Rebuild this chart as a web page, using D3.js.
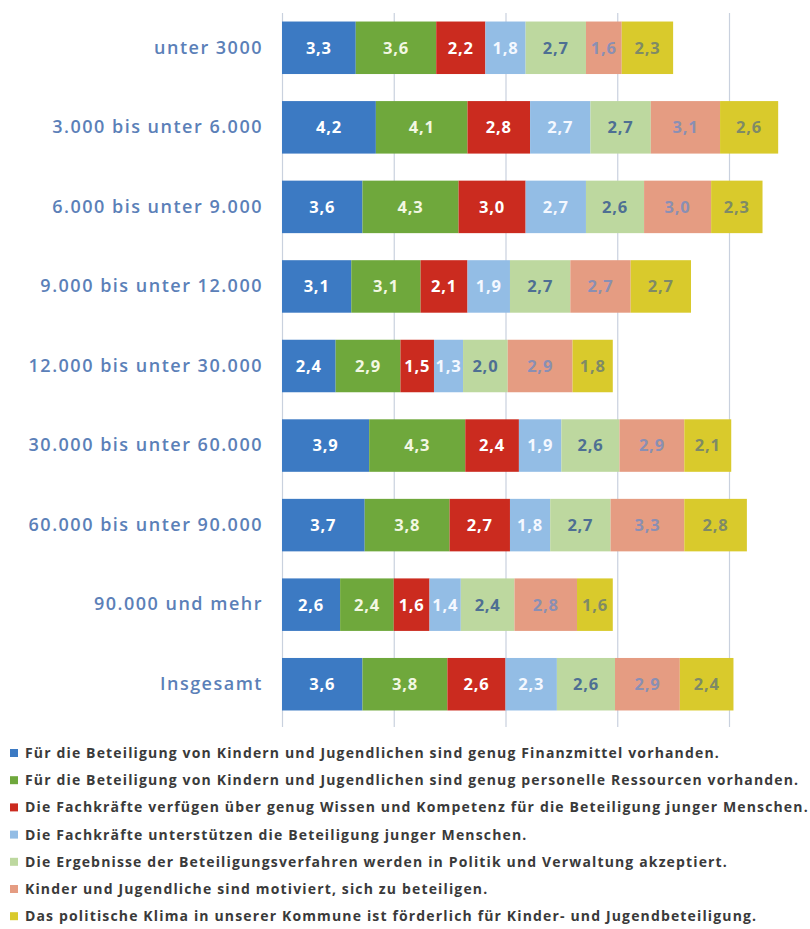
<!DOCTYPE html>
<html>
<head>
<meta charset="utf-8">
<script src="https://cdn.jsdelivr.net/npm/d3@7"></script>
<style>
  html, body { margin: 0; padding: 0; background: #fff; }
  svg { display: block; }
</style>
</head>
<body>
<svg id="chart" width="810" height="929"></svg>
<script>
// Gemeindegrößenklassen (Einwohner)
const categories = [
  "unter 3000",
  "3.000 bis unter 6.000",
  "6.000 bis unter 9.000",
  "9.000 bis unter 12.000",
  "12.000 bis unter 30.000",
  "30.000 bis unter 60.000",
  "60.000 bis unter 90.000",
  "90.000 und mehr",
  "Insgesamt"
];

// Aussagen (Reihen), in Stapelreihenfolge
const seriesNames = [
  "Für die Beteiligung von Kindern und Jugendlichen sind genug Finanzmittel vorhanden.",
  "Für die Beteiligung von Kindern und Jugendlichen sind genug personelle Ressourcen vorhanden.",
  "Die Fachkräfte verfügen über genug Wissen und Kompetenz für die Beteiligung junger Menschen.",
  "Die Fachkräfte unterstützen die Beteiligung junger Menschen.",
  "Die Ergebnisse der Beteiligungsverfahren werden in Politik und Verwaltung akzeptiert.",
  "Kinder und Jugendliche sind motiviert, sich zu beteiligen.",
  "Das politische Klima in unserer Kommune ist förderlich für Kinder- und Jugendbeteiligung."
];

// Werte je Reihe, eine Zahl pro Größenklasse
const finanzmittel  = [3.3, 4.2, 3.6, 3.1, 2.4, 3.9, 3.7, 2.6, 3.6];
const personal      = [3.6, 4.1, 4.3, 3.1, 2.9, 4.3, 3.8, 2.4, 3.8];
const wissen        = [2.2, 2.8, 3.0, 2.1, 1.5, 2.4, 2.7, 1.6, 2.6];
const unterstuetzen = [1.8, 2.7, 2.7, 1.9, 1.3, 1.9, 1.8, 1.4, 2.3];
const akzeptiert    = [2.7, 2.7, 2.6, 2.7, 2.0, 2.6, 2.7, 2.4, 2.6];
const motiviert     = [1.6, 3.1, 3.0, 2.7, 2.9, 2.9, 3.3, 2.8, 2.9];
const klima         = [2.3, 2.6, 2.3, 2.7, 1.8, 2.1, 2.8, 1.6, 2.4];

const seriesValues = [finanzmittel, personal, wissen, unterstuetzen, akzeptiert, motiviert, klima];
const xTicks = [0, 5, 10, 15, 20];

const colors     = ["#3c7ac3", "#6fa83c", "#cb2b1f", "#93bde5", "#bdd89f", "#e59c82", "#d9ca2c"];
const textColors = ["#ffffff", "#f2f7e2", "#ffffff", "#f4f8ff", "#4e6f93", "#8a8fb3", "#7f8a66"];

const keys = seriesNames.map((_, i) => "s" + i);
const rows = categories.map((c, j) => {
  const r = { cat: c };
  keys.forEach((k, i) => { r[k] = seriesValues[i][j]; });
  return r;
});
const stacked = d3.stack().keys(keys)(rows);

const svg = d3.select("#chart");
const fontFam = "'Open Sans', 'DejaVu Sans', sans-serif";

const x = d3.scaleLinear().domain([0, 20]).range([282, 729]);
const y = d3.scaleBand().domain(categories).range([8, 724])
  .paddingInner(0.34).paddingOuter(0.17);

// Gitterlinien
svg.append("g")
  .attr("transform", "translate(0,727)")
  .call(d3.axisBottom(x).tickValues(xTicks).tickSize(-714).tickFormat(""))
  .call(g => g.select(".domain").remove())
  .call(g => g.selectAll(".tick line").attr("stroke", "#c9d1de").attr("stroke-width", 1.2));

// Kategorienachse
svg.append("g")
  .attr("transform", "translate(263,0)")
  .call(d3.axisLeft(y).tickSize(0).tickPadding(0))
  .call(g => g.select(".domain").remove())
  .call(g => g.selectAll(".tick text")
    .attr("fill", "#5b80b8")
    .attr("font-family", fontFam)
    .attr("font-weight", 600)
    .attr("font-size", 18)
    .attr("letter-spacing", 1.5));

// Gestapelte Balken
const layers = svg.append("g").selectAll("g")
  .data(stacked).join("g")
  .attr("fill", (d, i) => colors[i]);

layers.selectAll("rect")
  .data(d => d)
  .join("rect")
  .attr("x", d => x(d[0]))
  .attr("width", d => x(d[1]) - x(d[0]))
  .attr("y", d => y(d.data.cat))
  .attr("height", y.bandwidth());

// Wertebeschriftungen
const fmt = v => d3.format(".1f")(v).replace(".", ",");
stacked.forEach((layer, i) => {
  svg.append("g").selectAll("text")
    .data(layer).join("text")
    .attr("x", d => (x(d[0]) + x(d[1])) / 2)
    .attr("y", d => y(d.data.cat) + y.bandwidth() / 2)
    .attr("dy", "0.36em")
    .attr("text-anchor", "middle")
    .attr("fill", textColors[i])
    .attr("font-family", fontFam)
    .attr("font-weight", 700)
    .attr("font-size", 16.5)
    .attr("letter-spacing", 0.8)
    .text(d => fmt(d[1] - d[0]));
});

// Legende
const legend = svg.append("g").selectAll("g")
  .data(seriesNames).join("g")
  .attr("transform", (d, i) => `translate(0,${753 + i * 27.2})`);
legend.append("rect")
  .attr("x", 10).attr("y", -4).attr("width", 8).attr("height", 8)
  .attr("fill", (d, i) => colors[i]);
legend.append("text")
  .attr("x", 25)
  .attr("dy", "0.35em")
  .attr("fill", "#3a3a3a")
  .attr("font-family", fontFam)
  .attr("font-weight", 700)
  .attr("font-size", 14)
  .attr("letter-spacing", 1.15)
  .text(d => d);
</script>
</body>
</html>
